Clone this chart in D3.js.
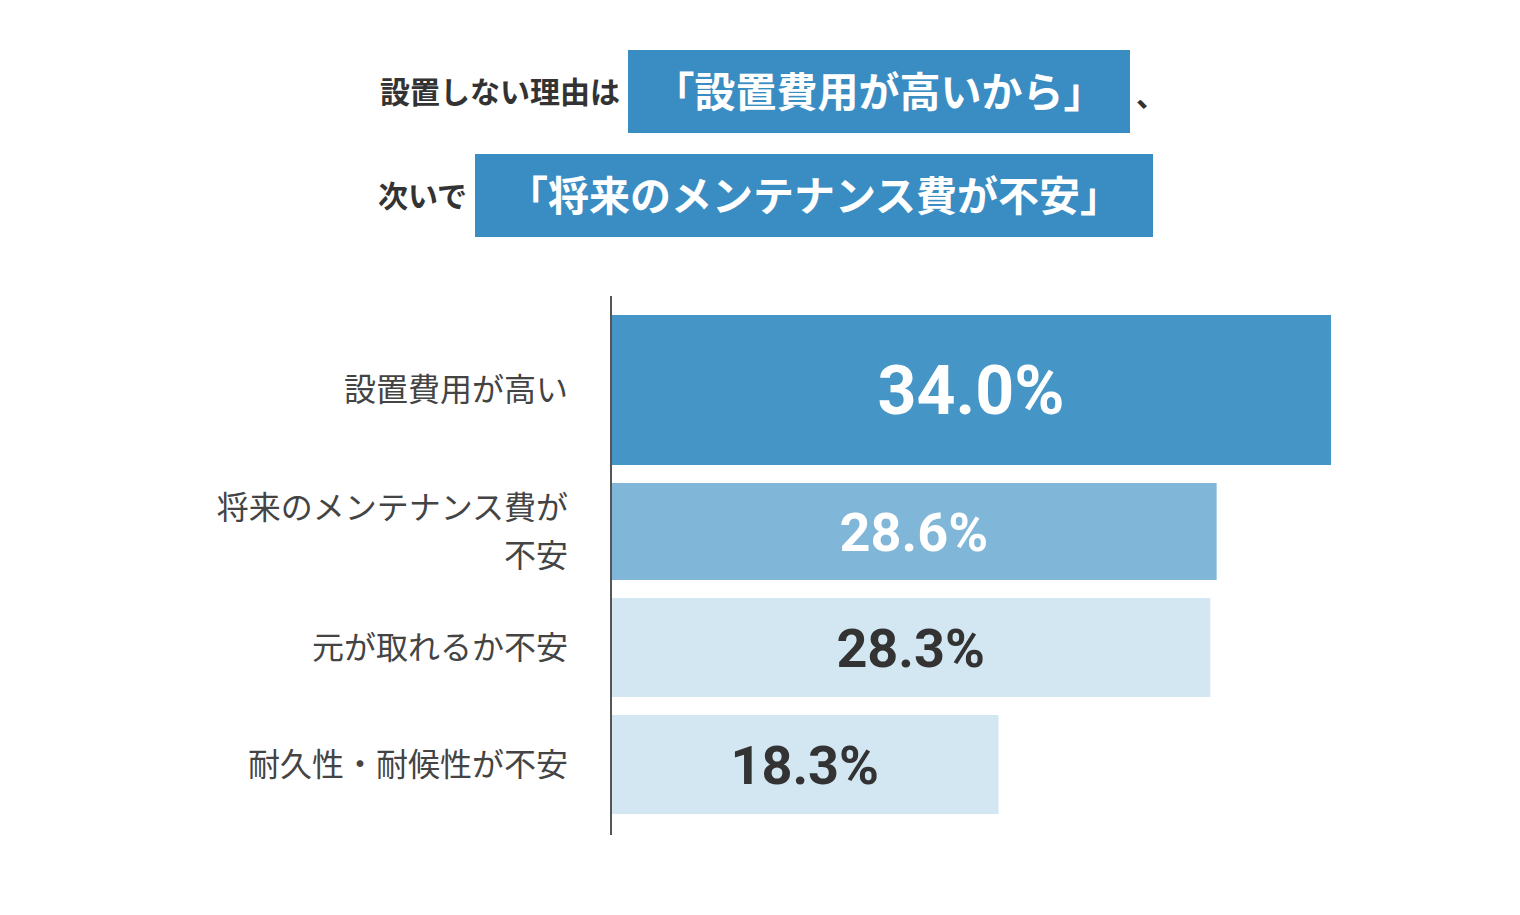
<!DOCTYPE html>
<html><head><meta charset="utf-8">
<script src="https://cdn.jsdelivr.net/npm/d3@7"></script>
<style>body{margin:0;background:#fff}</style></head>
<body><svg id="c" width="1520" height="915"></svg>
<script>
const categories = ["設置費用が高い", "将来のメンテナンス費が|不安", "元が取れるか不安", "耐久性・耐候性が不安"];
const values = [34.0, 28.6, 28.3, 18.3];
const valueLabels = ["34.0%", "28.6%", "28.3%", "18.3%"];
const titleLines = [["設置しない理由は", "「設置費用が高いから」", "、"], ["次いで", "「将来のメンテナンス費が不安」", ""]];

const svg = d3.select("#c");
const font = "'Noto Sans CJK JP', 'Noto Sans', sans-serif";
const numFont = "Roboto, 'Noto Sans', sans-serif";
const x = d3.scaleLinear().domain([0, 34]).range([611, 1331]);
const fills = ["#4596c6", "#80b7d8", "#d2e7f2", "#d2e7f2"];
const txtCol = ["#fff", "#fff", "#333", "#333"];
const heights = [150, 97, 99, 99];
const gaps = 18;
let ys = []; let yy = 315;
heights.forEach(h => { ys.push(yy); yy += h + gaps; });

// titles
const boxes = [{x0: 628, x1: 1130, y: 50, h: 83}, {x0: 475, x1: 1153, y: 154, h: 83}];
titleLines.forEach((t, i) => {
  const b = boxes[i];
  svg.append("rect").attr("x", b.x0).attr("y", b.y).attr("width", b.x1 - b.x0).attr("height", b.h).attr("fill", "#3a8dc3");
  svg.append("text").attr("x", b.x0 - 8).attr("y", b.y + b.h / 2 + 11).attr("text-anchor", "end")
    .attr("font-family", font).attr("font-weight", 700).attr("font-size", 30).attr("fill", "#333").text(t[0]);
  svg.append("text").attr("x", (b.x0 + b.x1) / 2).attr("y", b.y + b.h / 2 + 15).attr("text-anchor", "middle")
    .attr("font-family", font).attr("font-weight", 700).attr("font-size", 41).attr("fill", "#fff").text(t[1]);
  if (t[2]) svg.append("text").attr("x", b.x1 + 6).attr("y", b.y + b.h / 2 + 14)
    .attr("font-family", font).attr("font-weight", 700).attr("font-size", 30).attr("fill", "#333").text(t[2]);
});

values.forEach((v, i) => {
  svg.append("rect").attr("x", x(0)).attr("y", ys[i]).attr("width", x(v) - x(0)).attr("height", heights[i]).attr("fill", fills[i]);
  svg.append("text").attr("x", (x(0) + x(v)) / 2).attr("y", ys[i] + heights[i] / 2 + (i === 0 ? 24 : 19))
    .attr("text-anchor", "middle").attr("font-family", numFont).attr("font-weight", 700)
    .attr("font-size", i === 0 ? 68 : 54).attr("fill", txtCol[i]).text(valueLabels[i]);
  const parts = categories[i].split("|");
  const t = svg.append("text").attr("text-anchor", "end").attr("font-family", font).attr("font-size", 32).attr("fill", "#444");
  const cy = ys[i] + heights[i] / 2;
  parts.forEach((p, j) => {
    t.append("tspan").attr("x", 568).attr("y", cy + 11 + (j - (parts.length - 1) / 2) * 48).text(p);
  });
});
svg.append("line").attr("x1", 611).attr("x2", 611).attr("y1", 296).attr("y2", 835).attr("stroke", "#555").attr("stroke-width", 2);
</script></body></html>
